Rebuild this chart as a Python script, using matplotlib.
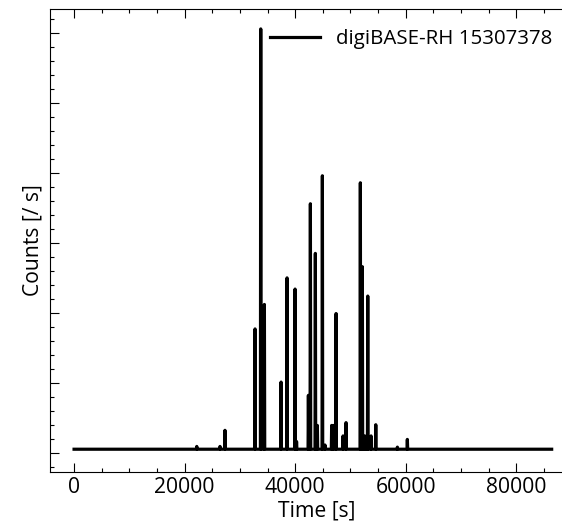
import numpy as np
import matplotlib
matplotlib.use("Agg")
import matplotlib.pyplot as plt
from matplotlib.ticker import MultipleLocator

plt.rcParams['font.family'] = ['Open Sans', 'DejaVu Sans']

# =========================
# DATA
# =========================
t_start = 0
t_end = 86400
baseline = 5

peak_times = [22200, 26400, 27300, 32740, 33770, 34430, 37450, 38530, 39980,
              40250, 42390, 42750, 43650, 44010, 44920, 45400, 46600, 46900,
              47400, 48660, 49200, 51790, 52150, 52500, 52900, 53130, 53730,
              54580, 58490, 60290]
peak_counts = [9, 9, 32, 177, 606, 212, 101, 250, 234,
               16, 82, 356, 285, 39, 396, 11, 39, 39,
               199, 24, 43, 386, 266, 24, 24, 224, 24,
               40, 8, 19]
half_width = 60  # seconds each spike spends rising / falling

label = "digiBASE-RH 15307378"

# build the trace: baseline, then each spike up and down
times = [t_start]
counts = [baseline]
for t, c in zip(peak_times, peak_counts):
    times += [t - half_width, t, t + half_width]
    counts += [baseline, c, baseline]
times.append(t_end)
counts.append(baseline)

# =========================
# PLOT
# =========================
fig = plt.figure(figsize=(5.62, 5.30), dpi=100)
ax = fig.add_axes([0.089, 0.1094, 0.9477, 0.874])

ax.plot(times, counts, color="black", lw=2.3, label=label)

ax.set_xlim(-4350, 92000)
ax.set_ylim(-27.6, 634.8)

ax.xaxis.set_major_locator(MultipleLocator(20000))
ax.xaxis.set_minor_locator(MultipleLocator(5000))
ax.yaxis.set_major_locator(MultipleLocator(100))
ax.yaxis.set_minor_locator(MultipleLocator(20))
ax.tick_params(which="both", direction="in", top=True, right=True,
               width=0.8, labelsize=15.2, labelleft=False)
ax.tick_params(which="major", length=6.5)
ax.tick_params(which="minor", length=3.2)
for s in ax.spines.values():
    s.set_linewidth(0.8)

ax.set_xlabel("Time [s]", fontsize=15.2, labelpad=2)
ax.set_ylabel("Counts [/ s]", fontsize=15.2, labelpad=5)

ax.legend(loc="center right", bbox_to_anchor=(552.7 / 562, 1 - 39 / 530),
          bbox_transform=fig.transFigure, frameon=False, fontsize=14.75,
          handlelength=2.44, handletextpad=0.81, borderpad=0, borderaxespad=0)

fig.savefig("out.png", dpi=100)
